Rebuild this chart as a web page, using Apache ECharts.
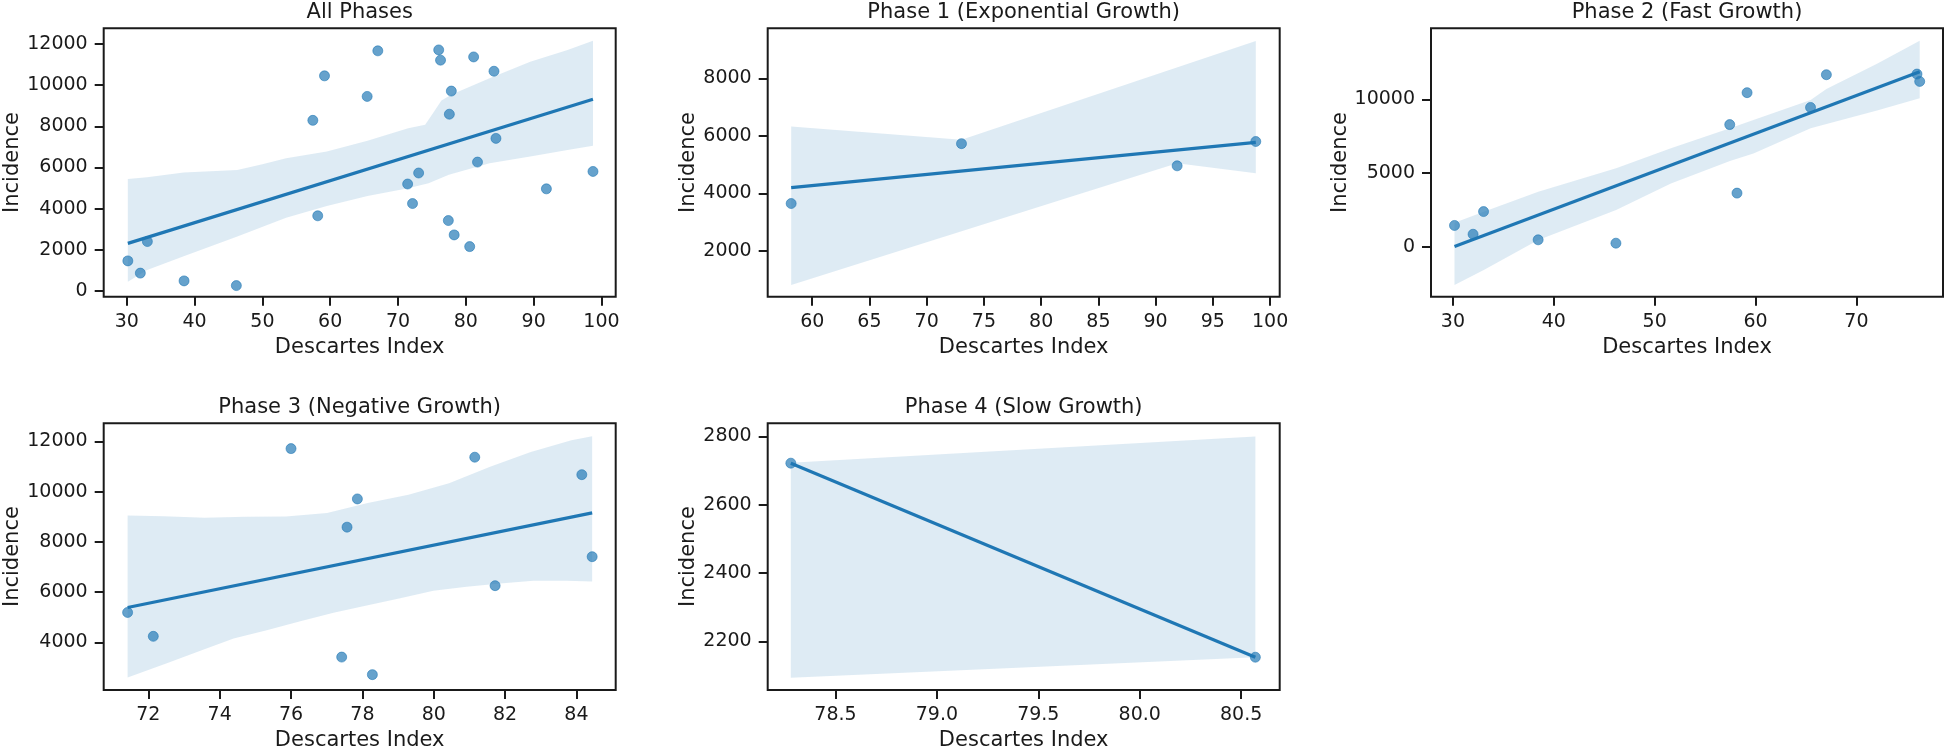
<!DOCTYPE html>
<html><head><meta charset="utf-8">
<script src="https://cdn.jsdelivr.net/npm/echarts@6/dist/echarts.min.js"></script>
<style>html,body{margin:0;padding:0;background:#fff}#c{width:1946px;height:752px}</style>
</head><body><div id="c"></div>
<script>
// ---------- DATA ----------
const titles = ['All Phases', 'Phase 1 (Exponential Growth)', 'Phase 2 (Fast Growth)', 'Phase 3 (Negative Growth)', 'Phase 4 (Slow Growth)'];

const allX = [30.16, 32.0, 33.04, 38.45, 46.16, 57.44, 58.16, 59.16, 65.45, 67.02, 76.0, 76.27, 73.04, 91.88, 98.75, 71.42, 72.14, 77.42, 77.57, 77.86, 78.28, 81.15, 81.72, 84.15, 84.44, 80.57];
const allY = [1460, 866, 2400, 488, 260, 8288, 3650, 10450, 9450, 11665, 11710, 11212, 5730, 4960, 5805, 5195, 4246, 3420, 8587, 9710, 2722, 11369, 6260, 10674, 7412, 2154];

const ph1X = [58.16, 73.04, 91.88, 98.75];
const ph1Y = [3650, 5730, 4960, 5805];

const ph2X = [30.16, 32.0, 33.04, 38.45, 46.16, 57.44, 58.16, 59.16, 65.45, 67.02, 76.0, 76.27];
const ph2Y = [1460, 866, 2400, 488, 260, 8288, 3650, 10450, 9450, 11665, 11710, 11212];

const ph3X = [71.42, 72.14, 76.0, 77.42, 77.57, 77.86, 78.28, 81.15, 81.72, 84.15, 84.44];
const ph3Y = [5195, 4246, 11710, 3420, 8587, 9710, 2722, 11369, 6260, 10674, 7412];

const ph4X = [78.28, 80.57];
const ph4Y = [2722, 2154];

// regression line end points
const allFit = [[30.16, 2310], [98.75, 9312]];
const ph1Fit = [[58.16, 4200], [98.75, 5776]];
const ph2Fit = [[30.16, 30], [76.27, 11870]];
const ph3Fit = [[71.42, 5390], [84.44, 9154]];
const ph4Fit = [[78.28, 2722], [80.57, 2154]];

// confidence band edges
const allBandUp = [[30.16,5440],[33,5520],[38.4,5750],[46.3,5880],[50,6150],[53.5,6450],[59.5,6780],[65.5,7300],[71.5,7900],[74,8080],[75.3,8700],[76.4,9250],[78,9550],[83.5,10330],[89.5,11140],[95,11700],[98.75,12150]];
const allBandLo = [[30.16,450],[33,1020],[38.4,1680],[46.3,2650],[53.5,3560],[59.5,4130],[65.5,4610],[71.5,4990],[74.5,5230],[77.5,5640],[83.5,6200],[89.5,6530],[95,6850],[98.75,7050]];
const ph1BandUp = [[58.16,6330],[73.04,5870],[98.75,9300]];
const ph1BandLo = [[58.16,820],[91.88,5050],[98.75,4700]];
const ph2BandUp = [[30.16,1650],[33.06,2390],[38.46,3750],[46.18,5330],[51.61,6680],[57.46,8040],[59.79,8600],[65.46,9950],[67.02,10700],[72.04,12400],[76.27,13970]];
const ph2BandLo = [[30.16,-2570],[33.06,-1560],[38.46,470],[46.18,2500],[51.61,4300],[57.46,5820],[59.79,6340],[65.46,8040],[72.04,9250],[76.27,10070]];
const ph3BandUp = [[71.42,9050],[72.43,9020],[73.58,8960],[74.72,9000],[75.86,9010],[77.01,9150],[78.15,9550],[79.29,9880],[80.43,10330],[81.58,10990],[82.72,11580],[83.86,12040],[84.44,12200]];
const ph3BandLo = [[71.42,2611],[72.52,3175],[73.46,3673],[74.39,4159],[75.32,4487],[76.26,4841],[77.19,5182],[78.12,5470],[79.06,5759],[79.99,6061],[80.92,6218],[81.86,6349],[82.79,6454],[83.72,6454],[84.44,6428]];
const ph4BandUp = [[78.28,2723],[80.57,2800]];
const ph4BandLo = [[78.28,2094],[80.57,2154]];

// tick labels
const allXTicks = [30, 40, 50, 60, 70, 80, 90, 100];
const allYTicks = [0, 2000, 4000, 6000, 8000, 10000, 12000];
const ph1XTicks = [60, 65, 70, 75, 80, 85, 90, 95, 100];
const ph1YTicks = [2000, 4000, 6000, 8000];
const ph2XTicks = [30, 40, 50, 60, 70];
const ph2YTicks = [0, 5000, 10000];
const ph3XTicks = [72, 74, 76, 78, 80, 82, 84];
const ph3YTicks = [4000, 6000, 8000, 10000, 12000];
const ph4XTicks = [78.5, 79.0, 79.5, 80.0, 80.5];
const ph4YTicks = [2200, 2400, 2600, 2800];

// axis limits
const allXRange = [26.6, 102.1], allYRange = [-280, 12760];
const ph1XRange = [56.11, 100.84], ph1YRange = [413, 9738];
const ph2XRange = [27.83, 78.58], ph2YRange = [-3363, 14808];
const ph3XRange = [70.75, 85.10], ph3YRange = [2111, 12721];
const ph4XRange = [78.166, 80.69], ph4YRange = [2058, 2839];

// ---------- LAYOUT ----------
const FONT = 'DejaVu Sans';
const INK = '#1a1a1a';
const BLUE = '#1f77b4';
const panels = [
  {title: titles[0], x: allX, y: allY, fit: allFit, up: allBandUp, lo: allBandLo, xt: allXTicks, yt: allYTicks, xr: allXRange, yr: allYRange, box: [103.7, 28.3, 512, 268.4], yGap: 80, xdec: 0},
  {title: titles[1], x: ph1X, y: ph1Y, fit: ph1Fit, up: ph1BandUp, lo: ph1BandLo, xt: ph1XTicks, yt: ph1YTicks, xr: ph1XRange, yr: ph1YRange, box: [767.7, 28.3, 512, 268.4], yGap: 68, xdec: 0},
  {title: titles[2], x: ph2X, y: ph2Y, fit: ph2Fit, up: ph2BandUp, lo: ph2BandLo, xt: ph2XTicks, yt: ph2YTicks, xr: ph2XRange, yr: ph2YRange, box: [1431, 28.3, 512, 268.4], yGap: 80, xdec: 0},
  {title: titles[3], x: ph3X, y: ph3Y, fit: ph3Fit, up: ph3BandUp, lo: ph3BandLo, xt: ph3XTicks, yt: ph3YTicks, xr: ph3XRange, yr: ph3YRange, box: [103.7, 423.2, 512, 269.4], yGap: 80, xdec: 0},
  {title: titles[4], x: ph4X, y: ph4Y, fit: ph4Fit, up: ph4BandUp, lo: ph4BandLo, xt: ph4XTicks, yt: ph4YTicks, xr: ph4XRange, yr: ph4YRange, box: [767.7, 423.2, 512, 269.4], yGap: 68, xdec: 1}
];

const intFmt = v => String(Math.round(v));
const grid = [], xAxis = [], yAxis = [], series = [], title = [];
panels.forEach((p, i) => {
  const [l, t, w, h] = p.box;
  grid.push({left: l, top: t, width: w, height: h, show: true, borderColor: INK, borderWidth: 2, backgroundColor: 'transparent', containLabel: false});
  title.push({text: p.title, left: l + w / 2, top: t - 26, textAlign: 'center', padding: 0,
    textStyle: {fontFamily: FONT, fontSize: 21, fontWeight: 'normal', color: INK}});
  const xFmt = p.xdec ? (v => Number(v).toFixed(p.xdec)) : intFmt;
  xAxis.push({type: 'value', gridIndex: i, min: p.xr[0], max: p.xr[1],
    name: 'Descartes Index', nameLocation: 'middle', nameGap: 40,
    nameTextStyle: {fontFamily: FONT, fontSize: 21, color: INK},
    axisLine: {show: false, onZero: false}, splitLine: {show: false},
    axisTick: {show: true, inside: false, length: 9, lineStyle: {color: INK, width: 2}, customValues: p.xt},
    axisLabel: {show: true, margin: 16, fontFamily: FONT, fontSize: 19, color: INK, customValues: p.xt, formatter: xFmt}});
  yAxis.push({type: 'value', gridIndex: i, min: p.yr[0], max: p.yr[1],
    name: 'Incidence', nameLocation: 'middle', nameGap: p.yGap, nameRotate: 90,
    nameTextStyle: {fontFamily: FONT, fontSize: 21, color: INK},
    axisLine: {show: false, onZero: false}, splitLine: {show: false},
    axisTick: {show: true, inside: false, length: 9, lineStyle: {color: INK, width: 2}, customValues: p.yt},
    axisLabel: {show: true, margin: 16, fontFamily: FONT, fontSize: 19, color: INK, customValues: p.yt, formatter: intFmt}});
  const up = p.up, lo = p.lo;
  series.push({type: 'custom', xAxisIndex: i, yAxisIndex: i, z: 1, silent: true,
    data: [up[0]],
    renderItem: (params, api) => {
      const pts = up.map(d => api.coord(d)).concat(lo.slice().reverse().map(d => api.coord(d)));
      return {type: 'polygon', shape: {points: pts}, style: {fill: 'rgba(31,119,180,0.15)', stroke: null}};
    }});
  series.push({type: 'scatter', xAxisIndex: i, yAxisIndex: i, z: 2, symbolSize: 10,
    itemStyle: {color: 'rgba(31,119,180,0.85)', borderColor: 'rgba(31,119,180,0.9)', borderWidth: 0.8},
    data: p.x.map((v, k) => [v, p.y[k]])});
  series.push({type: 'line', xAxisIndex: i, yAxisIndex: i, z: 3, symbol: 'none',
    lineStyle: {color: BLUE, width: 3.2}, data: p.fit});
});

const chart = echarts.init(document.getElementById('c'), null, {renderer: 'canvas'});
chart.setOption({animation: false, backgroundColor: '#fff', title, grid, xAxis, yAxis, series});
</script>
</body></html>
